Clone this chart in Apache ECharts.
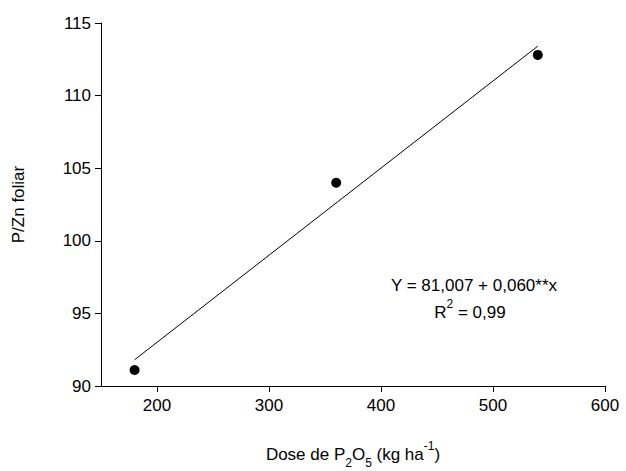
<!DOCTYPE html>
<html>
<head>
<meta charset="utf-8">
<script src="https://cdn.jsdelivr.net/npm/echarts@6/dist/echarts.min.js"></script>
<style>body{margin:0}#main{width:626px;height:471px}</style>
</head>
<body>
<div id="main"></div>
<script>
var doses = [180, 360, 540];
var ratios = [91.1, 104.0, 112.8];
var fitA = 81.007, fitB = 0.060;
var xTicks = [200, 300, 400, 500, 600];

var chart = echarts.init(document.getElementById('main'), null, {renderer: 'svg'});
var font = 'Liberation Sans, Arial, sans-serif';
var fitLine = [doses[0], doses[doses.length - 1]].map(function (x) { return [x, fitA + fitB * x]; });

chart.setOption({
  animation: false,
  grid: {left: 101, right: 21, top: 23, bottom: 85, outerBoundsMode: 'none'},
  xAxis: {
    type: 'value', min: 150, max: 600,
    splitLine: {show: false},
    axisLine: {lineStyle: {color: '#000'}},
    axisTick: {inside: false, length: 6, lineStyle: {color: '#000'}, customValues: xTicks},
    axisLabel: {color: '#000', fontSize: 17, fontFamily: font, margin: 11, customValues: xTicks},
    name: '{a|Dose de P}{s|2}{a|O}{s|5}{a| (kg ha}{p|-1}{a|)}',
    nameLocation: 'middle', nameGap: 60,
    nameTextStyle: {
      rich: {
        a: {fontSize: 17, fontFamily: font, color: '#000'},
        s: {fontSize: 12, fontFamily: font, color: '#000', verticalAlign: 'bottom', padding: [0, 0, -6, 0]},
        p: {fontSize: 12, fontFamily: font, color: '#000', verticalAlign: 'top', padding: [-6, 0, 0, 0]}
      }
    }
  },
  yAxis: {
    type: 'value', min: 90, max: 115, interval: 5,
    splitLine: {show: false},
    axisLine: {show: true, lineStyle: {color: '#000'}},
    axisTick: {show: true, length: 6, lineStyle: {color: '#000'}},
    axisLabel: {color: '#000', fontSize: 17, fontFamily: font, margin: 10},
    name: 'P/Zn foliar', nameLocation: 'middle', nameGap: 74,
    nameTextStyle: {fontSize: 17, fontFamily: font, color: '#000'}
  },
  series: [
    {type: 'line', data: fitLine, showSymbol: false, lineStyle: {color: '#000', width: 1}},
    {type: 'scatter', data: doses.map(function (d, i) { return [d, ratios[i]]; }),
     symbolSize: 10, itemStyle: {color: '#000', opacity: 1}}
  ],
  graphic: [{
    type: 'text', x: 474, y: 277,
    style: {text: 'Y = 81,007 + 0,060**x', align: 'center', fontSize: 17, fontFamily: font, fill: '#000'}
  }, {
    type: 'text', x: 470, y: 304,
    style: {
      text: '{a|R}{p|2}{a| = 0,99}', align: 'center',
      rich: {
        a: {fontSize: 17, fontFamily: font, fill: '#000'},
        p: {fontSize: 12, fontFamily: font, fill: '#000', verticalAlign: 'top', padding: [-6, 0, 0, 0]}
      }
    }
  }]
});
</script>
</body>
</html>
